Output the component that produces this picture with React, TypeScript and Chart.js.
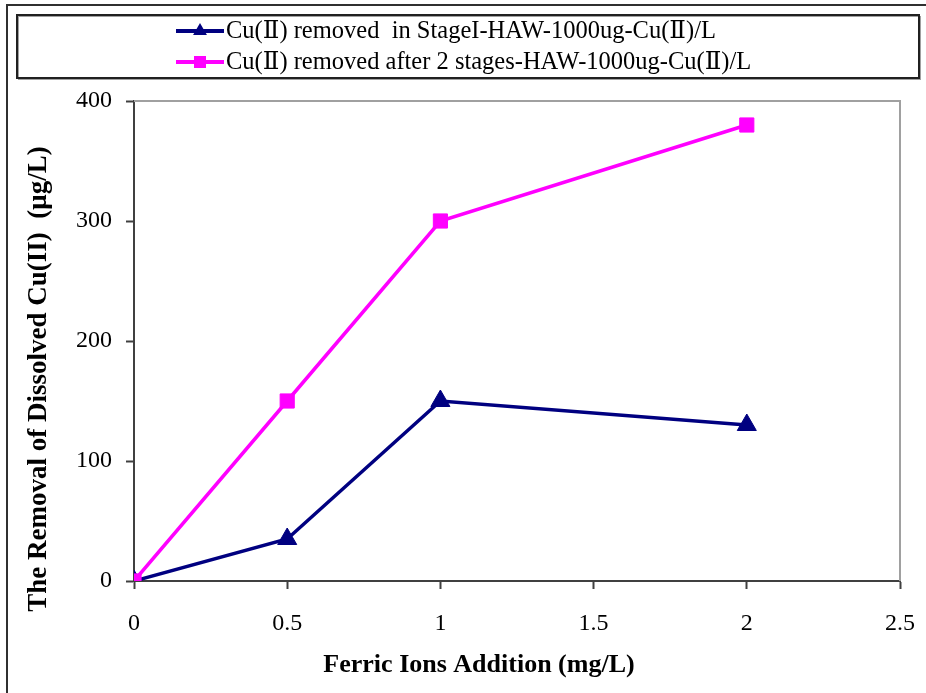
import React, { useEffect, useRef } from "react";
import { Chart, registerables } from "chart.js";

Chart.register(...registerables);

const xValues = [0, 0.5, 1, 2];
const stage1Removed = [0, 35, 150, 130];
const twoStageRemoved = [0, 150, 300, 380];
const xTicks = [0, 0.5, 1, 1.5, 2, 2.5];
const yTicks = [0, 100, 200, 300, 400];
const seriesLabels = [
  "Cu(Ⅱ) removed  in StageI-HAW-1000ug-Cu(Ⅱ)/L",
  "Cu(Ⅱ) removed after 2 stages-HAW-1000ug-Cu(Ⅱ)/L",
];
const xTitle = "Ferric Ions Addition (mg/L)";
const yTitle = "The Removal of Dissolved Cu(II)  (μg/L)";

const NAVY = "#000080";
const MAGENTA = "#FF00FF";
const AXIS = "#404040";
const FONT = "'Liberation Serif', 'DejaVu Serif', 'Times New Roman', serif";

function drawMarker(ctx: CanvasRenderingContext2D, style: string, x: number, y: number, r: number, color: string) {
  ctx.save();
  ctx.fillStyle = color;
  ctx.beginPath();
  if (style === "triangle") {
    ctx.moveTo(x, y - r);
    ctx.lineTo(x + r * 0.866, y + r * 0.5);
    ctx.lineTo(x - r * 0.866, y + r * 0.5);
    ctx.closePath();
  } else {
    ctx.rect(x - r * 0.7071, y - r * 0.7071, r * 1.4142, r * 1.4142);
  }
  ctx.fill();
  ctx.restore();
}

const framePlugin = {
  id: "frame",
  beforeDraw(chart: any) {
    const ctx = chart.ctx as CanvasRenderingContext2D;
    ctx.save();
    ctx.fillStyle = "#ffffff";
    ctx.fillRect(0, 0, chart.width, chart.height);
    ctx.strokeStyle = "#303030";
    ctx.lineWidth = 2;
    ctx.beginPath();
    ctx.moveTo(7, chart.height);
    ctx.lineTo(7, 5);
    ctx.lineTo(chart.width, 5);
    ctx.stroke();
    ctx.strokeStyle = "#a0a0a0";
    ctx.lineWidth = 1;
    ctx.strokeRect(18.5, 16.5, 902, 63);
    ctx.strokeStyle = "#202020";
    ctx.lineWidth = 2;
    ctx.strokeRect(17, 15, 902, 63);
    ctx.restore();
  },
  afterDraw(chart: any) {
    const ctx = chart.ctx as CanvasRenderingContext2D;
    const area = chart.chartArea;
    ctx.save();
    ctx.strokeStyle = "#a0a0a0";
    ctx.lineWidth = 2;
    ctx.beginPath();
    ctx.moveTo(area.left, area.top);
    ctx.lineTo(area.right, area.top);
    ctx.lineTo(area.right, area.bottom);
    ctx.stroke();

    const rows = [31, 62];
    const styles = ["triangle", "rect"];
    const colors = [NAVY, MAGENTA];
    for (let i = 0; i < 2; i++) {
      const y = rows[i];
      ctx.strokeStyle = colors[i];
      ctx.lineWidth = 4;
      ctx.beginPath();
      ctx.moveTo(176, y);
      ctx.lineTo(224, y);
      ctx.stroke();
      drawMarker(ctx, styles[i], 200, y, i === 0 ? 8 : 8.5, colors[i]);
      ctx.fillStyle = "#000";
      ctx.font = `24.5px ${FONT}`;
      ctx.textAlign = "left";
      ctx.textBaseline = "middle";
      ctx.fillText(seriesLabels[i], 226, y + 1);
    }

    ctx.fillStyle = "#000";
    ctx.font = `bold 26px ${FONT}`;
    ctx.textAlign = "center";
    ctx.textBaseline = "middle";
    ctx.fillText(xTitle, 479, 665);
    ctx.font = `bold 27px ${FONT}`;
    ctx.translate(39, 379);
    ctx.rotate(-Math.PI / 2);
    ctx.fillText(yTitle, 0, 0);
    ctx.restore();
  },
};

export default function App() {
  const canvasRef = useRef<HTMLCanvasElement | null>(null);

  useEffect(() => {
    document.body.style.margin = "0";
    const canvas = canvasRef.current;
    if (!canvas) return;
    const chart = new Chart(canvas, {
      type: "line",
      data: {
        datasets: [
          {
            label: seriesLabels[0],
            data: xValues.map((x, i) => ({ x, y: stage1Removed[i] })),
            borderColor: NAVY,
            backgroundColor: NAVY,
            borderWidth: 3.5,
            pointStyle: "triangle",
            pointRadius: 11,
            pointBorderWidth: 1,
            pointBackgroundColor: NAVY,
            pointBorderColor: NAVY,
            tension: 0,
            order: 2,
          },
          {
            label: seriesLabels[1],
            data: xValues.map((x, i) => ({ x, y: twoStageRemoved[i] })),
            borderColor: MAGENTA,
            backgroundColor: MAGENTA,
            borderWidth: 3.5,
            pointStyle: "rect",
            pointRadius: 10,
            pointBorderWidth: 1,
            pointBackgroundColor: MAGENTA,
            pointBorderColor: MAGENTA,
            tension: 0,
            order: 1,
          },
        ],
      },
      options: {
        animation: false,
        responsive: false,
        maintainAspectRatio: false,
        devicePixelRatio: 1,
        layout: { padding: { top: 101, right: 26, left: 0, bottom: 0 } },
        plugins: {
          legend: { display: false },
          tooltip: { enabled: false },
          title: { display: false },
        },
        scales: {
          x: {
            type: "linear",
            min: 0,
            max: 2.5,
            afterBuildTicks: (scale: any) => {
              scale.ticks = xTicks.map((v) => ({ value: v }));
            },
            afterFit: (scale: any) => {
              scale.height = 112;
              scale.paddingLeft = 0;
              scale.paddingRight = 0;
            },
            ticks: {
              color: "#000",
              font: { family: FONT, size: 24 },
              padding: 20,
              maxRotation: 0,
              autoSkip: false,
              callback: (v: any) => String(v),
            },
            grid: {
              display: true,
              drawOnChartArea: false,
              drawTicks: true,
              tickLength: 8,
              tickColor: AXIS,
              tickWidth: 2,
            },
            border: { display: true, color: AXIS, width: 2 },
          },
          y: {
            type: "linear",
            min: 0,
            max: 400,
            afterBuildTicks: (scale: any) => {
              scale.ticks = yTicks.map((v) => ({ value: v }));
            },
            afterFit: (scale: any) => {
              scale.width = 134;
              scale.paddingTop = 0;
              scale.paddingBottom = 0;
            },
            ticks: {
              color: "#000",
              font: { family: FONT, size: 24 },
              padding: 14,
              autoSkip: false,
              callback: (v: any) => String(v),
            },
            grid: {
              display: true,
              drawOnChartArea: false,
              drawTicks: true,
              tickLength: 8,
              tickColor: AXIS,
              tickWidth: 2,
            },
            border: { display: true, color: AXIS, width: 2 },
          },
        },
      },
      plugins: [framePlugin],
    });
    return () => chart.destroy();
  }, []);

  return (
    <div style={{ position: "absolute", left: 0, top: 0, width: 926, height: 693 }}>
      <canvas ref={canvasRef} width={926} height={693} style={{ width: 926, height: 693 }} />
    </div>
  );
}
